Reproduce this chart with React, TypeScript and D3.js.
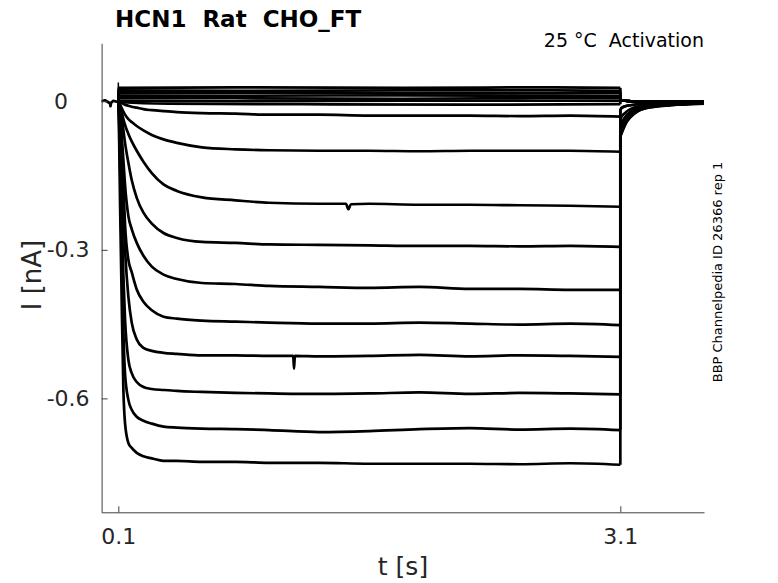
import React, { useEffect, useRef } from "react";
import * as d3 from "d3";

const W = 778;
const H = 583;

const xTicks = [0.1, 3.1];
const yTicks = [-0.6, -0.3, 0];

// holding segment before the step
const preTimes = [0, 0.02, 0.035, 0.05, 0.053, 0.057, 0.07, 0.09, 0.1];
const preValues = [0, 0.002, -0.001, -0.004, -0.01, -0.003, 0.001, -0.001, 0];

// step segment (0.1 s .. 3.1 s)
const stepTimes = [0.1, 0.105, 0.11, 0.12, 0.13, 0.14, 0.16, 0.18, 0.21, 0.25, 0.3, 0.37, 0.45, 0.6, 0.8, 1.0, 1.3, 1.6, 1.9, 2.2, 2.5, 2.8, 3.1];
const traceA = [0, -0.08, -0.2, -0.4, -0.58, -0.65, -0.69, -0.7, -0.71, -0.717, -0.721, -0.726, -0.726, -0.728, -0.728, -0.73, -0.73, -0.732, -0.732, -0.732, -0.733, -0.731, -0.734];
const traceB = [0, -0.04, -0.12, -0.3, -0.46, -0.55, -0.603, -0.623, -0.637, -0.645, -0.651, -0.657, -0.659, -0.661, -0.662, -0.664, -0.668, -0.666, -0.662, -0.66, -0.663, -0.661, -0.664];
const traceC = [0, -0.027, -0.088, -0.22, -0.35, -0.44, -0.522, -0.549, -0.567, -0.577, -0.581, -0.583, -0.585, -0.587, -0.589, -0.59, -0.591, -0.59, -0.588, -0.591, -0.589, -0.59, -0.592];
const traceD = [0, -0.02, -0.058, -0.138, -0.229, -0.3, -0.395, -0.447, -0.481, -0.498, -0.504, -0.508, -0.51, -0.513, -0.513, -0.514, -0.515, -0.514, -0.512, -0.515, -0.513, -0.514, -0.516];
const traceE = [0, -0.013, -0.037, -0.098, -0.169, -0.249, -0.32, -0.345, -0.38, -0.405, -0.422, -0.435, -0.439, -0.443, -0.445, -0.447, -0.449, -0.449, -0.447, -0.449, -0.451, -0.449, -0.452];
const traceF = [0, -0.009, -0.023, -0.068, -0.118, -0.169, -0.232, -0.258, -0.286, -0.312, -0.334, -0.35, -0.359, -0.367, -0.369, -0.373, -0.375, -0.377, -0.375, -0.379, -0.379, -0.381, -0.381];
const traceG = [0, -0.005, -0.013, -0.033, -0.058, -0.084, -0.124, -0.159, -0.195, -0.225, -0.247, -0.266, -0.276, -0.284, -0.286, -0.289, -0.29, -0.291, -0.292, -0.292, -0.293, -0.292, -0.294];
const traceH = [0, -0.001, -0.007, -0.022, -0.036, -0.048, -0.066, -0.081, -0.1, -0.122, -0.145, -0.168, -0.181, -0.194, -0.2, -0.205, -0.207, -0.207, -0.209, -0.209, -0.21, -0.211, -0.213];
const traceI = [0, -0.001, -0.006, -0.014, -0.021, -0.027, -0.036, -0.042, -0.05, -0.059, -0.068, -0.077, -0.084, -0.093, -0.097, -0.099, -0.1, -0.1, -0.101, -0.1, -0.1, -0.1, -0.102];
const traceJ = [0, 0, -0.001, -0.003, -0.005, -0.007, -0.009, -0.011, -0.013, -0.016, -0.018, -0.02, -0.022, -0.024, -0.025, -0.027, -0.027, -0.029, -0.029, -0.029, -0.03, -0.029, -0.031];

// isolated glitches seen on two sweeps
const glitchD: [number, number][] = [[1.145, -0.514], [1.15, -0.54], [1.155, -0.514]];
const glitchH: [number, number][] = [[1.46, -0.207], [1.475, -0.218], [1.49, -0.208]];

// sweeps that stay near zero during the step
const nearZero1: [number, number][] = [[0.1, 0], [0.102, 0.027], [0.8, 0.028], [1.8, 0.027], [2.6, 0.028], [3.1, 0.027]];
const nearZero2: [number, number][] = [[0.1, 0], [0.102, 0.022], [0.8, 0.021], [1.8, 0.022], [2.6, 0.022], [3.1, 0.021]];
const nearZero3: [number, number][] = [[0.1, 0], [0.102, 0.016], [0.8, 0.017], [1.8, 0.016], [2.6, 0.016], [3.1, 0.017]];
const nearZero4: [number, number][] = [[0.1, 0], [0.102, 0.011], [0.8, 0.011], [1.8, 0.012], [2.6, 0.011], [3.1, 0.011]];
const nearZero5: [number, number][] = [[0.1, 0], [0.102, 0.006], [0.8, 0.006], [1.8, 0.005], [2.6, 0.006], [3.1, 0.006]];
const nearZero6: [number, number][] = [[0.1, 0], [0.102, 0.001], [0.8, 0.0], [1.8, 0.001], [2.6, 0.001], [3.1, 0.001]];
const nearZero7: [number, number][] = [[0.1, 0], [0.12, -0.002], [0.4, -0.005], [1.2, -0.006], [2.2, -0.007], [3.1, -0.006]];

// capacitive transient at step onset
const capSpike: [number, number][] = [[0.1, 0], [0.1, 0.038], [0.1012, 0.002]];

// tail currents after 3.1 s
const tailTimes = [3.1, 3.103, 3.11, 3.13, 3.16, 3.2, 3.28, 3.4, 3.6];
const tailHigh = [-0.07, -0.068, -0.062, -0.046, -0.032, -0.021, -0.012, -0.008, -0.005];
const tailHigh2 = [-0.064, -0.062, -0.056, -0.042, -0.029, -0.019, -0.011, -0.007, -0.004];
const tailMid = [-0.05, -0.048, -0.043, -0.032, -0.022, -0.015, -0.009, -0.006, -0.004];
const tailLow = [-0.036, -0.034, -0.03, -0.023, -0.016, -0.011, -0.007, -0.005, -0.003];
const tailSmall = [-0.016, -0.015, -0.013, -0.01, -0.008, -0.006, -0.004, -0.003, -0.002];
const tailFlat = [0.004, 0.003, 0.002, 0.001, 0.0, -0.001, -0.001, 0.0, 0.0];

type Pt = [number, number];

const App: React.FC = () => {
  const gRef = useRef<SVGGElement>(null);

  useEffect(() => {
    const root = d3.select(gRef.current);
    root.selectAll("*").remove();

    const x = d3.scaleLinear().domain([0, 3.6]).range([101.6, 704]);
    const y = d3.scaleLinear().domain([-0.83, 0.117]).range([512.3, 43.3]);

    const zip = (ts: number[], vs: number[]) => ts.map((t, i) => [t, vs[i]] as Pt);
    const pre = zip(preTimes, preValues);

    const stepSweeps = [
      { v: traceA, tail: tailHigh, extra: [] as Pt[] },
      { v: traceB, tail: tailHigh2, extra: [] },
      { v: traceC, tail: tailHigh, extra: [] },
      { v: traceD, tail: tailHigh2, extra: glitchD },
      { v: traceE, tail: tailHigh2, extra: [] },
      { v: traceF, tail: tailMid, extra: [] },
      { v: traceG, tail: tailMid, extra: [] },
      { v: traceH, tail: tailLow, extra: glitchH },
      { v: traceI, tail: tailSmall, extra: [] },
      { v: traceJ, tail: tailSmall, extra: [] },
    ];
    const flatSweeps = [nearZero1, nearZero2, nearZero3, nearZero4, nearZero5, nearZero6, nearZero7];

    // each sweep: holding part, step part (smooth), return + tail
    const sweeps: { step: Pt[]; tail: Pt[] }[] = [];
    stepSweeps.forEach((s) => {
      const step = zip(stepTimes, s.v).concat(s.extra).sort((a, b) => a[0] - b[0]);
      sweeps.push({ step, tail: [step[step.length - 1]].concat(zip(tailTimes, s.tail)) });
    });
    flatSweeps.forEach((s) => {
      sweeps.push({ step: s, tail: [s[s.length - 1]].concat(zip(tailTimes, tailFlat)) });
    });

    const line = d3.line<Pt>().x((d) => x(d[0])).y((d) => y(d[1]));
    const smooth = d3.line<Pt>().x((d) => x(d[0])).y((d) => y(d[1])).curve(d3.curveMonotoneX);

    const traces = root.append("g")
      .attr("fill", "none")
      .attr("stroke", "#000")
      .attr("stroke-width", 2.7)
      .attr("stroke-linejoin", "round");

    traces.append("path").attr("d", line(pre));
    sweeps.forEach((s) => {
      traces.append("path").attr("d", smooth(s.step));
      traces.append("path").attr("d", line(s.tail.slice(0, 2)));
      traces.append("path").attr("d", smooth(s.tail.slice(1)));
    });

    root.append("path")
      .attr("d", line(capSpike))
      .attr("fill", "none")
      .attr("stroke", "#000")
      .attr("stroke-width", 1.5);

    // axes
    const gx = root.append("g")
      .attr("transform", `translate(0,${y.range()[0]})`)
      .call(d3.axisBottom(x).tickValues(xTicks).tickSize(-6).tickSizeOuter(0).tickPadding(16).tickFormat((d) => String(d)));
    const gy = root.append("g")
      .attr("transform", `translate(${x.range()[0]},0)`)
      .call(d3.axisLeft(y).tickValues(yTicks).tickSize(-6).tickSizeOuter(0).tickPadding(12).tickFormat((d) => String(d)));

    [gx, gy].forEach((g) => {
      g.select(".domain").attr("stroke", "#404040").attr("stroke-width", 1);
      g.selectAll(".tick line").attr("stroke", "#404040");
      g.selectAll("text")
        .attr("font-family", "DejaVu Sans")
        .attr("font-size", 22)
        .attr("fill", "#262626");
    });
    // the zero label sits further left in the original
    gy.selectAll<SVGTextElement, number>("text")
      .filter((d) => d === 0)
      .attr("x", -33.5);
  }, []);

  return (
    <svg
      width={W}
      height={H}
      style={{ position: "absolute", left: 0, top: 0, background: "#fff" }}
    >
      <g ref={gRef} />
      <text x={115} y={27} fontFamily="DejaVu Sans" fontWeight="bold" fontSize={23} fill="#000" style={{ whiteSpace: "pre" }}>
        HCN1  Rat  CHO_FT
      </text>
      <text x={704} y={47} textAnchor="end" fontFamily="DejaVu Sans" fontSize={19} fill="#000" style={{ whiteSpace: "pre" }}>
        25 °C  Activation
      </text>
      <text x={403} y={575} textAnchor="middle" fontFamily="DejaVu Sans" fontSize={25} fill="#262626">
        t [s]
      </text>
      <text transform="translate(41,275) rotate(-90)" textAnchor="middle" fontFamily="DejaVu Sans" fontSize={26} fill="#262626">
        I [nA]
      </text>
      <text transform="translate(722,272) rotate(-90)" textAnchor="middle" fontFamily="DejaVu Sans" fontSize={13} fill="#000">
        BBP Channelpedia ID 26366 rep 1
      </text>
    </svg>
  );
};

export default App;
